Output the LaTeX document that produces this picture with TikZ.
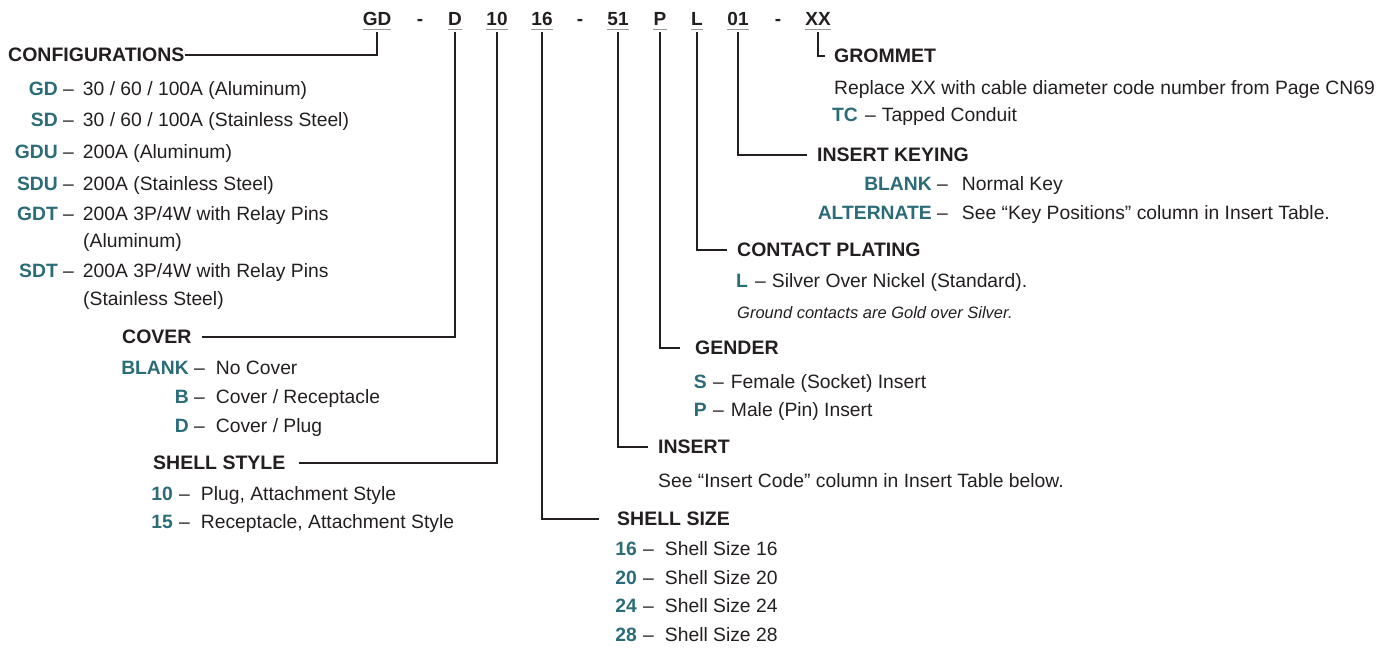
\documentclass[tikz,border=0pt]{standalone}
\usepackage{fontspec}
\setmainfont{Liberation Sans}
\usepackage{tikz}
\usetikzlibrary{positioning}
\definecolor{codeteal}{RGB}{42,108,120}
\definecolor{inkgray}{RGB}{35,31,32}

\begin{document}
\begin{tikzpicture}[x=1pt, y=-1pt,
  part/.style={font=\fontsize{19}{22}\selectfont\bfseries, text=inkgray, inner xsep=0pt, inner ysep=4pt, anchor=base},
  head/.style={font=\fontsize{19.5}{22}\selectfont\bfseries, text=inkgray, inner xsep=10pt, inner ysep=0pt, anchor=west},
  opt/.style={font=\fontsize{19.3}{22}\selectfont\bfseries, text=codeteal, inner sep=0pt, anchor=base east},
  desc/.style={font=\fontsize{19.3}{22}\selectfont, text=inkgray, inner sep=0pt, anchor=base west},
  lead/.style={draw=inkgray, line width=2pt},
  uline/.style={draw=gray!80, line width=1.2pt},
]
  \useasboundingbox (0,0) rectangle (1391,648);

  % Part number
  \node[part] (pGD) at (377,25) {GD};
  \node[part] (dash1) at (420,25) {-};
  \node[part] (pD) at (455,25) {D};
  \node[part] (p10) at (497,25) {10};
  \node[part] (p16) at (542,25) {16};
  \node[part] (dash2) at (580,25) {-};
  \node[part] (p51) at (618,25) {51};
  \node[part] (pP) at (660,25) {P};
  \node[part] (pL) at (697,25) {L};
  \node[part] (p01) at (738,25) {01};
  \node[part] (dash3) at (778,25) {-};
  \node[part] (pXX) at (818,25) {XX};
  \foreach \p in {pGD,pD,p10,p16,p51,pP,pL,p01,pXX}
    \draw[uline] (\p.south west) -- (\p.south east);

  % Headings
  \node[head, inner xsep=0pt] (hConf) at (8,55) {CONFIGURATIONS};
  \node[head] (hCover) at (112,337) {COVER};
  \node[head, inner xsep=13pt] (hStyle) at (140,463) {SHELL STYLE};
  \node[head, inner xsep=18pt] (hSize) at (599,519) {SHELL SIZE};
  \node[head] (hInsert) at (648,447) {INSERT};
  \node[head, inner xsep=15pt] (hGender) at (680,348) {GENDER};
  \node[head] (hPlating) at (727,250) {CONTACT PLATING};
  \node[head] (hKeying) at (807,155) {INSERT KEYING};
  \node[head, inner xsep=9pt] (hGrommet) at (825,56) {GROMMET};

  % Leaders
  \draw[lead] ([yshift=-3pt]pGD.south) |- (hConf.east);
  \draw[lead] ([yshift=-3pt]pD.south) |- (hCover.east);
  \draw[lead] ([yshift=-3pt]p10.south) |- (hStyle.east);
  \draw[lead] ([yshift=-3pt]p16.south) |- (hSize.west);
  \draw[lead] ([yshift=-3pt]p51.south) |- (hInsert.west);
  \draw[lead] ([yshift=-3pt]pP.south) |- (hGender.west);
  \draw[lead] ([yshift=-3pt]pL.south) |- (hPlating.west);
  \draw[lead] ([yshift=-3pt]p01.south) |- (hKeying.west);
  \draw[lead] ([yshift=-3pt]pXX.south) |- (hGrommet.west);

  % Configurations
  \node[opt] (oGD) at (58,95) {GD};
  \node[desc] (dGD) at (63,95) {–\hspace{9pt}30 / 60 / 100A (Aluminum)};
  \node[opt] (oSD) at (58,126) {SD};
  \node[desc] (dSD) at (63,126) {–\hspace{9pt}30 / 60 / 100A (Stainless Steel)};
  \node[opt] (oGDU) at (58,158) {GDU};
  \node[desc] (dGDU) at (63,158) {–\hspace{9pt}200A (Aluminum)};
  \node[opt] (oSDU) at (58,190) {SDU};
  \node[desc] (dSDU) at (63,190) {–\hspace{9pt}200A (Stainless Steel)};
  \node[opt] (oGDT) at (58,220) {GDT};
  \node[desc] (dGDT) at (63,220) {–\hspace{9pt}200A 3P/4W with Relay Pins};
  \node[desc] (dGDTb) at (83,247) {(Aluminum)};
  \node[opt] (oSDT) at (58,277) {SDT};
  \node[desc] (dSDT) at (63,277) {–\hspace{9pt}200A 3P/4W with Relay Pins};
  \node[desc] (dSDTb) at (83,305) {(Stainless Steel)};

  % Cover
  \node[opt] (oBlankC) at (189,374) {BLANK};
  \node[desc] (dBlankC) at (194,374) {–\hspace{11pt}No Cover};
  \node[opt] (oB) at (189,403) {B};
  \node[desc] (dB) at (194,403) {–\hspace{11pt}Cover / Receptacle};
  \node[opt] (oD) at (189,432) {D};
  \node[desc] (dD) at (194,432) {–\hspace{11pt}Cover / Plug};

  % Shell style
  \node[opt] (o10) at (173,500) {10};
  \node[desc] (d10) at (179,500) {–\hspace{11pt}Plug, Attachment Style};
  \node[opt] (o15) at (173,528) {15};
  \node[desc] (d15) at (179,528) {–\hspace{11pt}Receptacle, Attachment Style};

  % Shell size
  \foreach \s/\yy in {16/555, 20/584, 24/612, 28/641} {
    \node[opt] (o\s) at (637,\yy) {\s};
    \node[desc] (d\s) at (643,\yy) {–\hspace{11pt}Shell Size \s};
  }

  % Insert
  \node[desc] (dInsert) at (658,487) {See “Insert Code” column in Insert Table below.};

  % Gender
  \node[opt] (oS) at (707,388) {S};
  \node[desc] (dS) at (713,388) {–\hspace{7pt}Female (Socket) Insert};
  \node[opt] (oP) at (707,416) {P};
  \node[desc] (dP) at (713,416) {–\hspace{7pt}Male (Pin) Insert};

  % Contact plating
  \node[opt] (oL) at (748,287) {L};
  \node[desc] (dL) at (755,287) {–\hspace{6pt}Silver Over Nickel (Standard).};
  \node[desc, font=\fontsize{16.5}{20}\selectfont\itshape] (note) at (737,318) {Ground contacts are Gold over Silver.};

  % Insert keying
  \node[opt] (oBlankK) at (932,190) {BLANK};
  \node[desc] (dBlankK) at (937,190) {–\hspace{14pt}Normal Key};
  \node[opt] (oAlt) at (932,219) {ALTERNATE};
  \node[desc] (dAlt) at (937,219) {–\hspace{14pt}See “Key Positions” column in Insert Table.};

  % Grommet
  \node[desc] (dReplace) at (834,94) {Replace XX with cable diameter code number from Page CN69};
  \node[opt] (oTC) at (858,121) {TC};
  \node[desc] (dTC) at (865,121) {–\hspace{6pt}Tapped Conduit};
\end{tikzpicture}
\end{document}
